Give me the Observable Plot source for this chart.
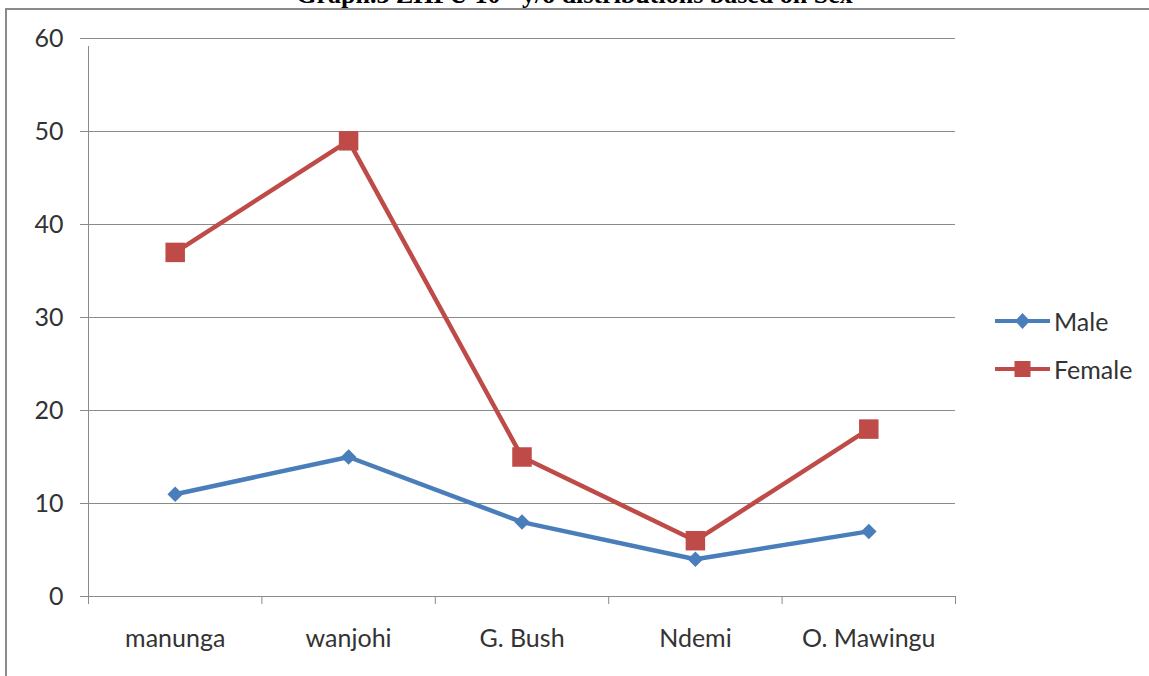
<!DOCTYPE html>
<html>
<head>
<meta charset="utf-8">
<script src="https://cdn.jsdelivr.net/npm/d3@7"></script>
<script src="https://cdn.jsdelivr.net/npm/@observablehq/plot@0.6"></script>
<style>
  html, body { margin: 0; padding: 0; background: #fff; }
  #wrap { position: relative; width: 1149px; height: 676px; overflow: hidden; }
  #title {
    position: absolute; left: 0; width: 1149px; top: -20px; text-align: center;
    font: bold 26px "Liberation Serif", "DejaVu Serif", serif; color: #000; line-height: 30px;
  }
  #frame {
    position: absolute; left: 5px; top: 8px; right: -4px; bottom: -4px;
    border-left: 2px solid #8a8a8a; border-top: 2px solid #8a8a8a;
  }
  #chart { position: absolute; left: 0; top: 0; }
  .legend { position: absolute; left: 995px; font: 25px Lato, "Open Sans", sans-serif; color: #333; }
  .legend .row { display: flex; align-items: center; height: 24px; }
  .legend svg { margin-right: 3px; }
</style>
</head>
<body>
<div id="wrap">
  <div id="title">Graph.3 ZHFU 10+ y/o distributions based on Sex</div>
  <div id="frame"></div>
  <div id="chart"></div>
  <div class="legend" id="legend"></div>
</div>
<script>
// Schools and counts by sex
const schools = ["manunga", "wanjohi", "G. Bush", "Ndemi", "O. Mawingu"];
const male = [11, 15, 8, 4, 7];
const female = [37, 49, 15, 6, 18];
const yTicks = [0, 10, 20, 30, 40, 50, 60];

const seriesNames = ["Male", "Female"];
const seriesColors = ["#4a7ebb", "#be4b48"];

// Each school sits in the middle of a unit slot on a linear x scale
const rows = [];
schools.forEach((s, i) => {
  rows.push({school: s, pos: i + 0.5, sex: "Male", value: male[i]});
  rows.push({school: s, pos: i + 0.5, sex: "Female", value: female[i]});
});
const maleRows = rows.filter(d => d.sex === "Male");
const femaleRows = rows.filter(d => d.sex === "Female");
const labelRows = schools.map((s, i) => ({school: s, pos: i + 0.5}));

const font = "Lato, 'Open Sans', sans-serif";

const chart = Plot.plot({
  width: 1149,
  height: 676,
  marginLeft: 88,
  marginRight: 194,
  marginTop: 38,
  marginBottom: 80,
  style: {fontFamily: font, fontSize: "25px", color: "#333", background: "transparent"},
  x: {type: "linear", domain: [0, schools.length]},
  y: {domain: [0, 60]},
  marks: [
    Plot.gridY(yTicks.filter(t => t > 0), {stroke: "#8a8a8a", strokeOpacity: 1, strokeWidth: 1}),
    Plot.axisY({ticks: yTicks, tickSize: 8, tickPadding: 17, stroke: "#8a8a8a", fill: "#333", fontSize: 25, label: null}),
    Plot.ruleY([0], {stroke: "#8a8a8a", strokeWidth: 1}),
    Plot.ruleX([0], {y1: 0, y2: 60, stroke: "#8a8a8a", strokeWidth: 1, insetBottom: -8}),
    Plot.axisX({ticks: d3.range(schools.length + 1), tickSize: 8, tickFormat: () => "", stroke: "#8a8a8a", label: null}),
    Plot.text(labelRows, {x: "pos", y: 0, text: "school", dy: 42, fill: "#333", fontSize: 25}),
    Plot.line(maleRows, {x: "pos", y: "value", stroke: seriesColors[0], strokeWidth: 4.5}),
    Plot.line(femaleRows, {x: "pos", y: "value", stroke: seriesColors[1], strokeWidth: 4.5}),
    Plot.dot(maleRows, {x: "pos", y: "value", symbol: "diamond2", r: 7, fill: seriesColors[0], stroke: "none"}),
    Plot.dot(femaleRows, {x: "pos", y: "value", symbol: "square", r: 11, fill: seriesColors[1], stroke: "none"})
  ]
});
document.getElementById("chart").appendChild(chart);

// Legend entries: a short line with the series marker on it
const legend = document.getElementById("legend");
legend.style.top = "309px";
seriesNames.forEach((name, i) => {
  const row = document.createElement("div");
  row.className = "row";
  row.style.marginBottom = i === 0 ? "24px" : "0";
  const marker = i === 0
    ? `<path d="M27.5,4 L35,12 L27.5,20 L20,12 Z" fill="${seriesColors[i]}"/>`
    : `<rect x="19.5" y="4" width="16" height="16" fill="${seriesColors[i]}"/>`;
  row.innerHTML = `<svg width="56" height="24"><line x1="0" x2="55" y1="12" y2="12" stroke="${seriesColors[i]}" stroke-width="4"/>${marker}</svg><span>${name}</span>`;
  legend.appendChild(row);
});
</script>
</body>
</html>
